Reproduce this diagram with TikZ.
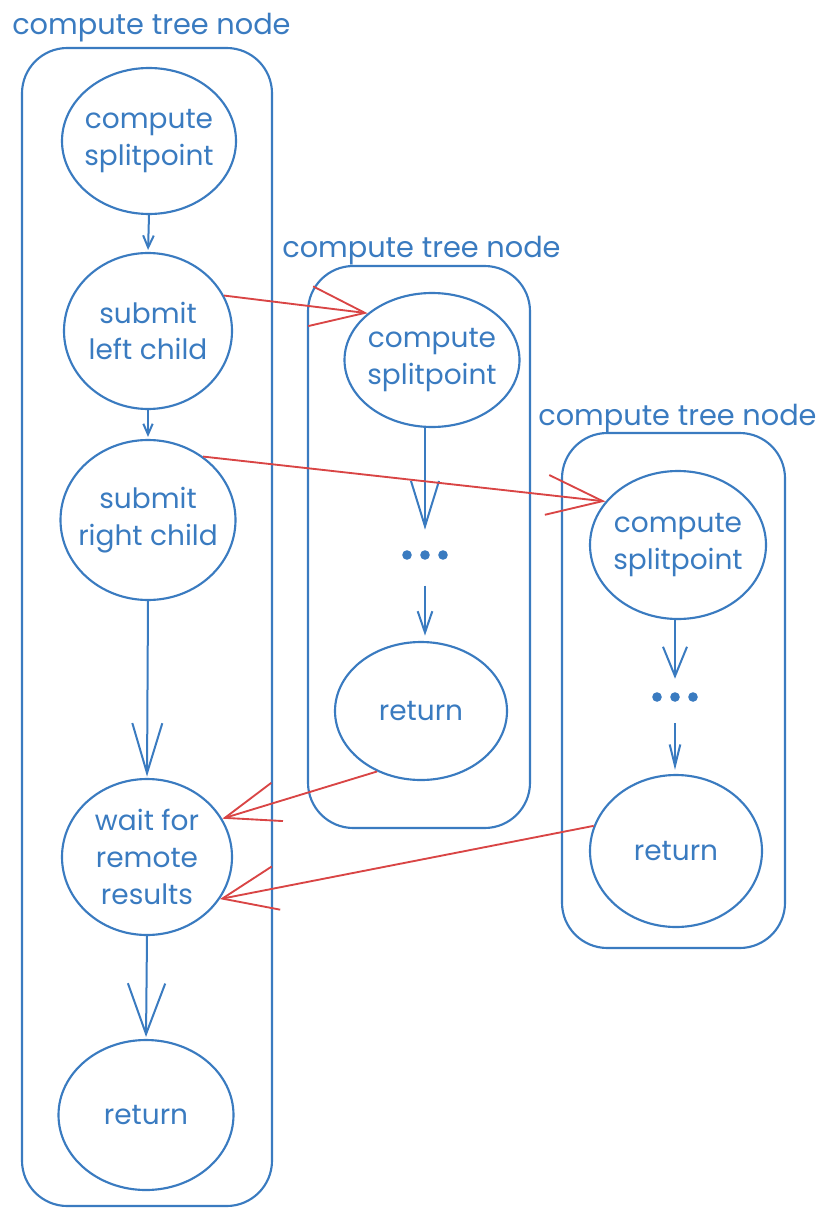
\documentclass[tikz,border=0pt]{standalone}
\usepackage{fontspec}
\setmainfont{Poppins}
\usetikzlibrary{shapes.geometric,arrows.meta}
\definecolor{ink}{HTML}{3A7BC0}
\definecolor{link}{HTML}{D94545}

\begin{document}
\begin{tikzpicture}[x=0.75pt,y=-0.75pt,
  every node/.style={font=\fontsize{21}{27.5}\selectfont, text=ink},
  task/.style={ellipse, draw=ink, line width=1.6pt, align=center, inner sep=-10pt},
  frame/.style={rectangle, draw=ink, line width=1.6pt, rounded corners=34pt, inner sep=0pt},
  title/.style={anchor=base west, inner sep=0pt, font=\fontsize{21.6}{27.5}\selectfont},
  gap/.style={inner sep=0pt, minimum width=45pt},
  flow/.style={draw=ink, line width=1.5pt, line join=round},
  remote/.style={draw=link, line width=1.4pt, line join=round},
]
\useasboundingbox (0,0) rectangle (820,1209);

% containers
\node[frame, minimum width=187.5pt, minimum height=868.5pt] (f1) at (147,627) {};
\node[frame, minimum width=166.5pt, minimum height=421.5pt] (f2) at (419,547) {};
\node[frame, minimum width=167.25pt, minimum height=386.25pt] (f3) at (673.5,690.5) {};

% container titles
\node[title] (t1) at (12,35) {compute tree node};
\node[title] (t2) at (282,257) {compute tree node};
\node[title] (t3) at (538,425) {compute tree node};

% first column
\node[task, minimum width=130.5pt, minimum height=109.5pt] (cs1) at (149,141) {compute\\splitpoint};
\node[task, minimum width=126pt, minimum height=117pt] (sl) at (148,331) {submit\\left child};
\node[task, minimum width=131.25pt, minimum height=120pt] (sr) at (148,520) {submit\\right child};
\node[task, minimum width=127.5pt, minimum height=117pt] (wr) at (147,857) {wait for\\remote\\results};
\node[task, minimum width=131.25pt, minimum height=112.5pt] (r1) at (146,1115) {return};

% second column
\node[task, minimum width=131.25pt, minimum height=100.5pt] (cs2) at (432,360) {compute\\splitpoint};
\node[gap, minimum height=37.5pt] (d2) at (425,555) {};
\node[task, minimum width=129pt, minimum height=103.5pt] (r2) at (421,711) {return};

% third column
\node[task, minimum width=132pt, minimum height=111pt] (cs3) at (678,545) {compute\\splitpoint};
\node[gap, minimum height=27pt] (d3) at (675,697) {};
\node[task, minimum width=129pt, minimum height=114pt] (r3) at (676,851) {return};

% ellipsis dots
\foreach \n in {d2,d3}{
  \fill[ink] ([xshift=-13.5pt]\n.center) circle (3.6pt);
  \fill[ink] (\n.center) circle (3.6pt);
  \fill[ink] ([xshift=13.5pt]\n.center) circle (3.6pt);
}

% local flow
\draw[flow, -{Straight Barb[length=9pt,width=8pt]}, shorten >=1.5pt] (cs1.south) -- (sl.north);
\draw[flow, -{Straight Barb[length=8pt,width=7pt]}, shorten >=1.5pt] (sl.south) -- (sr.north);
\draw[flow, -{Straight Barb[length=37.5pt,width=22.5pt]}, shorten >=1pt] (sr.south) -- (wr.north);
\draw[flow, -{Straight Barb[length=38pt,width=28pt]}, shorten >=1.5pt] (wr.south) -- (r1.north);
\draw[flow, -{Straight Barb[length=34pt,width=21pt]}] (d2.north |- cs2.south) -- (d2.north);
\draw[flow, -{Straight Barb[length=16pt,width=11pt]}, shorten <=4pt, shorten >=4pt] (d2.south) -- (d2.south |- r2.north);
\draw[flow, -{Straight Barb[length=22pt,width=18pt]}] (d3.north |- cs3.south) -- (d3.north);
\draw[flow, -{Straight Barb[length=16pt,width=8pt]}, shorten <=6pt, shorten >=3pt] (d3.south) -- (d3.south |- r3.north);

% remote calls and results
\draw[remote, -{Straight Barb[length=41pt,width=30pt]}] (sl.25) -- (cs2.144);
\draw[remote, -{Straight Barb[length=42pt,width=30pt]}] (sr.49) -- (cs3.149);
\draw[remote, -{Straight Barb[length=41pt,width=30pt]}] (r2.-126) -- (wr.27);
\draw[remote, -{Straight Barb[length=41pt,width=33pt]}] (r3.163) -- (wr.-30);
\end{tikzpicture}
\end{document}
